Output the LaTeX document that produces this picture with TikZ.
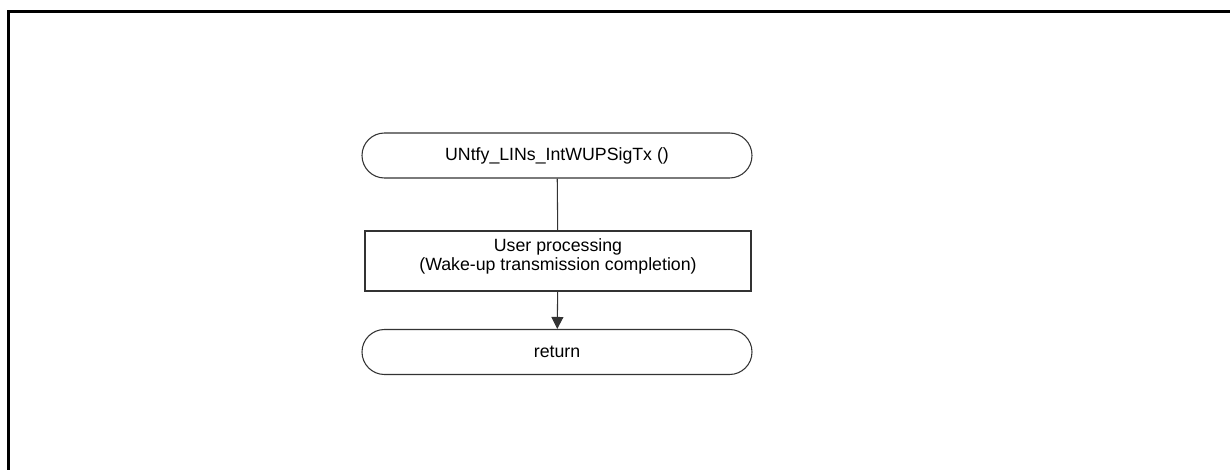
\documentclass[tikz,border=0pt]{standalone}
\usepackage{fontspec}
\setmainfont{Liberation Sans}
\usetikzlibrary{shapes.misc,arrows.meta}
\begin{document}
\begin{tikzpicture}[x=0.75pt,y=-0.75pt,
  lbl/.style={font=\fontsize{13.3pt}{14.3pt}\selectfont, inner sep=0pt, align=center},
  term/.style={rounded rectangle, draw=black!80, line width=0.8pt, minimum width=292.5pt, minimum height=33.75pt, inner sep=0pt, lbl},
  proc/.style={rectangle, draw=black!80, line width=0.8pt, minimum width=289.5pt, minimum height=45pt, inner sep=0pt},
  conn/.style={draw=black!80, line width=0.8pt},
  frameline/.style={line width=2.4pt, black}]
\useasboundingbox (0,0) rectangle (1230,470);
\draw[frameline] (8.5,472) -- (8.5,11.5) -- (1232,11.5);
\node[term] (start) at (557,155.5) {UNtfy\_LINs\_IntWUPSigTx ()};
\node[proc] (user) at (558,261) {};
\node[lbl] (usertext) at (558,256) {User processing\\(Wake-up transmission completion)};
\node[term] (ret) at (557,352) {return};
\draw[conn] (start) -- (user);
\draw[conn,-{Triangle[length=9pt,width=9pt]}] (user) -- (ret);
\end{tikzpicture}
\end{document}
